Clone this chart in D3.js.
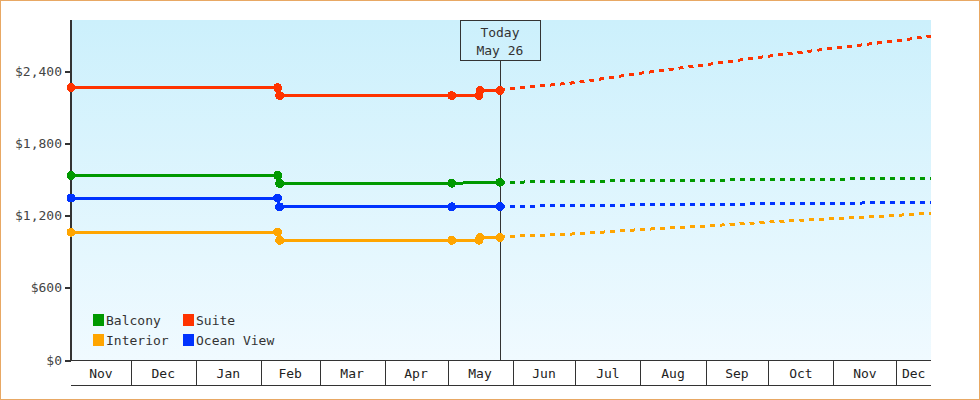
<!DOCTYPE html>
<html>
<head>
<meta charset="utf-8">
<script src="https://cdn.jsdelivr.net/npm/d3@7"></script>
<style>
  body { margin: 0; background: #fff; }
  svg { display: block; font-family: "DejaVu Sans Mono", monospace; font-size: 13px; }
  .crisp { shape-rendering: crispEdges; }
</style>
</head>
<body>
<svg id="chart" width="980" height="400"></svg>
<script>
// Cabin price history (solid) and forecast (dashed) around "today".

const seriesNames = ["Balcony", "Suite", "Interior", "Ocean View"];

const todayDate = "2023-05-26T00:00";
const xDomainDates = ["2022-11-02T12:00", "2023-12-17T12:00"];
const yTicks = [0, 600, 1200, 1800, 2400];

// history: Balcony and Ocean View share one set of dates, Suite and Interior another
const historyDatesA = ["2022-11-02T12:00", "2023-02-09T00:00", "2023-02-10T00:00", "2023-05-03T00:00", "2023-05-26T00:00"];
const historyDatesB = ["2022-11-02T12:00", "2023-02-09T00:00", "2023-02-10T00:00", "2023-05-03T00:00", "2023-05-16T00:00", "2023-05-16T12:00", "2023-05-26T00:00"];
const balconyHistory = [1534, 1534, 1466, 1469, 1477];
const oceanViewHistory = [1346, 1346, 1272, 1273, 1276];
const suiteHistory = [2263, 2263, 2197, 2197, 2197, 2240, 2240];
const interiorHistory = [1062, 1062, 995, 995, 995, 1019, 1019];

const forecastDates = ["2023-05-26T00:00", "2023-06-01T00:00", "2023-07-01T00:00", "2023-08-01T00:00", "2023-09-01T00:00", "2023-10-01T00:00", "2023-11-01T00:00", "2023-12-01T00:00", "2023-12-17T12:00"];
const balconyForecast = [1477, 1478, 1485, 1490, 1494, 1499, 1503, 1509, 1511];
const suiteForecast = [2240, 2255, 2305, 2383, 2454, 2525, 2591, 2653, 2691];
const interiorForecast = [1019, 1028, 1048, 1084, 1113, 1146, 1175, 1202, 1221];
const oceanViewForecast = [1276, 1277, 1284, 1289, 1293, 1298, 1302, 1308, 1310];

const COLORS = { "Balcony": "#009900", "Suite": "#ff3300", "Interior": "#ffa500", "Ocean View": "#0033ff" };

const parse = d3.timeParse("%Y-%m-%dT%H:%M");
const zip = (dates, vals) => dates.map((d, i) => ({ date: parse(d), value: vals[i] }));

const series = [
  { name: "Balcony", history: zip(historyDatesA, balconyHistory), forecast: zip(forecastDates, balconyForecast) },
  { name: "Suite", history: zip(historyDatesB, suiteHistory), forecast: zip(forecastDates, suiteForecast) },
  { name: "Interior", history: zip(historyDatesB, interiorHistory), forecast: zip(forecastDates, interiorForecast) },
  { name: "Ocean View", history: zip(historyDatesA, oceanViewHistory), forecast: zip(forecastDates, oceanViewForecast) },
];

const W = 980, H = 400;
const m = { left: 71, right: 49, top: 20, bottom: 40 };
const plotR = W - m.right, plotB = H - m.bottom;

const svg = d3.select("#chart");

// outer frame
svg.append("rect").attr("x", 0.5).attr("y", 0.5).attr("width", W - 1).attr("height", H - 1)
  .attr("fill", "#fff").attr("stroke", "#e8a864");

const x = d3.scaleTime().domain(xDomainDates.map(parse)).range([m.left, plotR]);
const maxVal = d3.max(series, s => d3.max(s.history.concat(s.forecast), d => d.value));
const y = d3.scaleLinear().domain([0, maxVal * 1.05]).range([plotB, m.top]);

// plot background gradient
const grad = svg.append("defs").append("linearGradient").attr("id", "bg")
  .attr("x1", 0).attr("y1", 0).attr("x2", 0).attr("y2", 1);
grad.append("stop").attr("offset", "0%").attr("stop-color", "#ccf0fc");
grad.append("stop").attr("offset", "100%").attr("stop-color", "#f0faff");
svg.append("rect").attr("x", m.left).attr("y", m.top)
  .attr("width", plotR - m.left).attr("height", plotB - m.top).attr("fill", "url(#bg)");

// y axis
const yAxis = svg.append("g").attr("transform", `translate(${m.left},0)`)
  .call(d3.axisLeft(y).tickValues(yTicks).tickSize(6).tickPadding(3)
    .tickFormat(v => "$" + d3.format(",")(v)));
yAxis.select(".domain").remove();
yAxis.selectAll(".tick line").attr("stroke", "#333").attr("stroke-width", 2).attr("class", "crisp");
yAxis.selectAll(".tick text").attr("fill", "#444").style("font-size", "13px")
  .style("font-family", "DejaVu Sans Mono, monospace");
svg.append("line").attr("class", "crisp").attr("x1", m.left).attr("x2", m.left)
  .attr("y1", m.top).attr("y2", plotB + 1).attr("stroke", "#333").attr("stroke-width", 2);

// month band under the plot
const bandH = 25;
const [d0, d1] = x.domain();
const months = d3.timeMonth.range(d3.timeMonth.floor(d0), d1);
const band = svg.append("g").attr("class", "crisp");
band.append("line").attr("x1", m.left).attr("x2", plotR).attr("y1", plotB + 0.5).attr("y2", plotB + 0.5).attr("stroke", "#333");
band.append("line").attr("x1", m.left).attr("x2", plotR).attr("y1", plotB + bandH + 0.5).attr("y2", plotB + bandH + 0.5).attr("stroke", "#333");
band.selectAll("line.sep").data(months.filter(d => d > d0))
  .join("line").attr("class", "sep")
  .attr("x1", d => Math.round(x(d)) + 0.5).attr("x2", d => Math.round(x(d)) + 0.5)
  .attr("y1", plotB).attr("y2", plotB + bandH).attr("stroke", "#333");
svg.append("g").selectAll("text").data(months).join("text")
  .attr("x", d => (x(d3.max([d, d0])) + x(d3.min([d3.timeMonth.offset(d, 1), d1]))) / 2)
  .attr("y", plotB + 18).attr("text-anchor", "middle").attr("fill", "#222")
  .text(d3.timeFormat("%b"));

// today marker line
const today = parse(todayDate);
const boxTop = m.top, boxH = 40, boxW = 80;
svg.append("line").attr("class", "crisp")
  .attr("x1", Math.round(x(today)) + 0.5).attr("x2", Math.round(x(today)) + 0.5)
  .attr("y1", boxTop + boxH).attr("y2", plotB).attr("stroke", "#333");

// lines
const line = d3.line().x(d => x(d.date)).y(d => y(d.value));
const g = svg.append("g");
series.forEach(s => {
  g.append("path").datum(s.history).attr("d", line).attr("fill", "none")
    .attr("stroke", COLORS[s.name]).attr("stroke-width", 3).attr("class", "crisp");
  g.append("path").datum(s.forecast).attr("d", line).attr("fill", "none")
    .attr("stroke", COLORS[s.name]).attr("stroke-width", 3).attr("stroke-dasharray", "5,5").attr("class", "crisp");
  g.selectAll(null).data(s.history).join("circle")
    .attr("cx", d => x(d.date)).attr("cy", d => y(d.value)).attr("r", 4.5)
    .attr("fill", COLORS[s.name]).attr("class", "crisp");
});

// legend
const legend = svg.append("g");
seriesNames.forEach((name, i) => {
  const lx = 93 + (i % 2) * 90, ly = 314 + Math.floor(i / 2) * 20;
  legend.append("rect").attr("class", "crisp").attr("x", lx).attr("y", ly)
    .attr("width", 11).attr("height", 12).attr("fill", COLORS[name]);
  legend.append("text").attr("x", lx + 13).attr("y", ly + 11).attr("fill", "#333").text(name);
});

// today box
const bx = Math.round(x(today)) - boxW / 2;
svg.append("rect").attr("class", "crisp").attr("x", bx + 0.5).attr("y", boxTop + 0.5)
  .attr("width", boxW).attr("height", boxH).attr("fill", "none").attr("stroke", "#333");
svg.append("text").attr("x", x(today)).attr("y", boxTop + 17).attr("text-anchor", "middle")
  .attr("fill", "#333").text("Today");
svg.append("text").attr("x", x(today)).attr("y", boxTop + 35).attr("text-anchor", "middle")
  .attr("fill", "#333").text(d3.timeFormat("%b %-d")(today));
</script>
</body>
</html>
